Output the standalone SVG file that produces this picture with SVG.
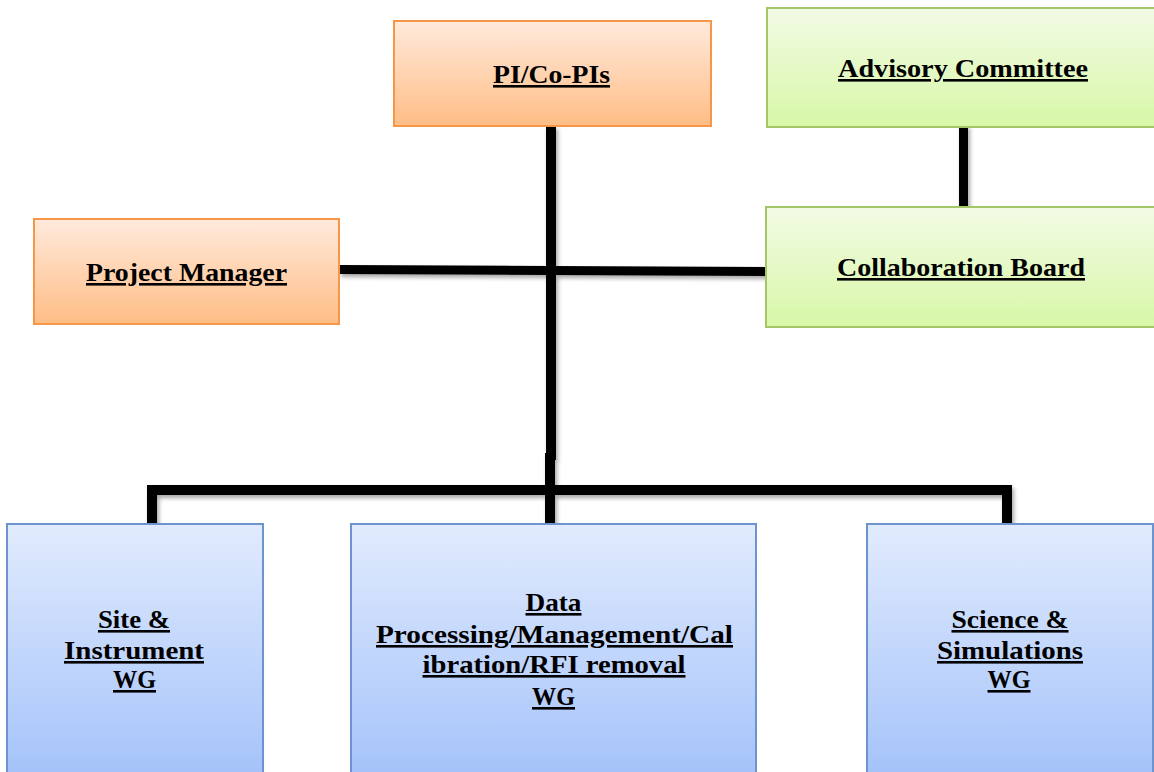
<svg xmlns="http://www.w3.org/2000/svg" width="1154" height="772" viewBox="0 0 1154 772">
<defs>
<linearGradient id="gOrange" x1="0" y1="0" x2="0" y2="1"><stop offset="0" stop-color="#FFEADC"/><stop offset="1" stop-color="#FFBD86"/></linearGradient>
<linearGradient id="gGreen" x1="0" y1="0" x2="0" y2="1"><stop offset="0" stop-color="#F2FAE5"/><stop offset="1" stop-color="#D8F8A7"/></linearGradient>
<linearGradient id="gBlue" x1="0" y1="0" x2="0" y2="1"><stop offset="0" stop-color="#E1EBFD"/><stop offset="1" stop-color="#A2C1FA"/></linearGradient>
<filter id="shadow" filterUnits="userSpaceOnUse" x="0" y="0" width="1154" height="772"><feDropShadow dx="2" dy="3" stdDeviation="2" flood-color="#000" flood-opacity="0.35"/></filter>
</defs>
<style>
.orange{fill:url(#gOrange);stroke:#F79646;stroke-width:2}
.green{fill:url(#gGreen);stroke:#A3C669;stroke-width:2}
.blue{fill:url(#gBlue);stroke:#6D94CF;stroke-width:2}
.lbl{font-family:"Liberation Serif","Times New Roman",serif;font-weight:bold;font-size:26px;fill:#000;text-anchor:middle;text-decoration:underline}
.conn{fill:none;stroke:#000;stroke-linecap:butt;stroke-linejoin:miter}
</style>
<rect width="1154" height="772" fill="#fff"/>
<g id="connectors" filter="url(#shadow)">
<line class="conn" x1="551" y1="126" x2="551" y2="460" stroke-width="10"/>
<line class="conn" x1="550" y1="453" x2="550" y2="525" stroke-width="10"/>
<line class="conn" x1="339" y1="269.5" x2="767" y2="271.5" stroke-width="9"/>
<line class="conn" x1="963.5" y1="125" x2="963.5" y2="211" stroke-width="9"/>
<path class="conn" d="M152,525 V490 H1007 V526" stroke-width="10"/>
</g>
<g id="pi">
<rect class="orange" x="394" y="21" width="317" height="105"/>
<text class="lbl" x="551.5" y="83" textLength="117" lengthAdjust="spacingAndGlyphs">PI/Co-PIs</text>
</g>
<g id="advisory">
<rect class="green" x="767" y="8" width="395" height="119"/>
<text class="lbl" x="963" y="77" textLength="250" lengthAdjust="spacingAndGlyphs">Advisory Committee</text>
</g>
<g id="pm">
<rect class="orange" x="34" y="219" width="305" height="105"/>
<text class="lbl" x="186.5" y="281" textLength="201" lengthAdjust="spacingAndGlyphs">Project Manager</text>
</g>
<g id="board">
<rect class="green" x="766" y="207" width="396" height="120"/>
<text class="lbl" x="961" y="276" textLength="248" lengthAdjust="spacingAndGlyphs">Collaboration Board</text>
</g>
<g id="site">
<rect class="blue" x="7" y="524" width="256" height="262"/>
<text class="lbl" x="134" y="628" textLength="72" lengthAdjust="spacingAndGlyphs">Site &amp;</text>
<text class="lbl" x="134" y="659" textLength="140" lengthAdjust="spacingAndGlyphs">Instrument</text>
<text class="lbl" x="134.5" y="688" textLength="43" lengthAdjust="spacingAndGlyphs">WG</text>
</g>
<g id="data">
<rect class="blue" x="351" y="524" width="405" height="262"/>
<text class="lbl" x="553.5" y="611" textLength="56" lengthAdjust="spacingAndGlyphs">Data</text>
<text class="lbl" x="554.5" y="643" textLength="357" lengthAdjust="spacingAndGlyphs">Processing/Management/Cal</text>
<text class="lbl" x="554" y="673" textLength="263" lengthAdjust="spacingAndGlyphs">ibration/RFI removal</text>
<text class="lbl" x="553.5" y="705" textLength="43" lengthAdjust="spacingAndGlyphs">WG</text>
</g>
<g id="science">
<rect class="blue" x="867" y="524" width="286" height="262"/>
<text class="lbl" x="1010" y="628" textLength="117" lengthAdjust="spacingAndGlyphs">Science &amp;</text>
<text class="lbl" x="1010" y="659" textLength="146" lengthAdjust="spacingAndGlyphs">Simulations</text>
<text class="lbl" x="1009" y="688" textLength="43" lengthAdjust="spacingAndGlyphs">WG</text>
</g>
</svg>
